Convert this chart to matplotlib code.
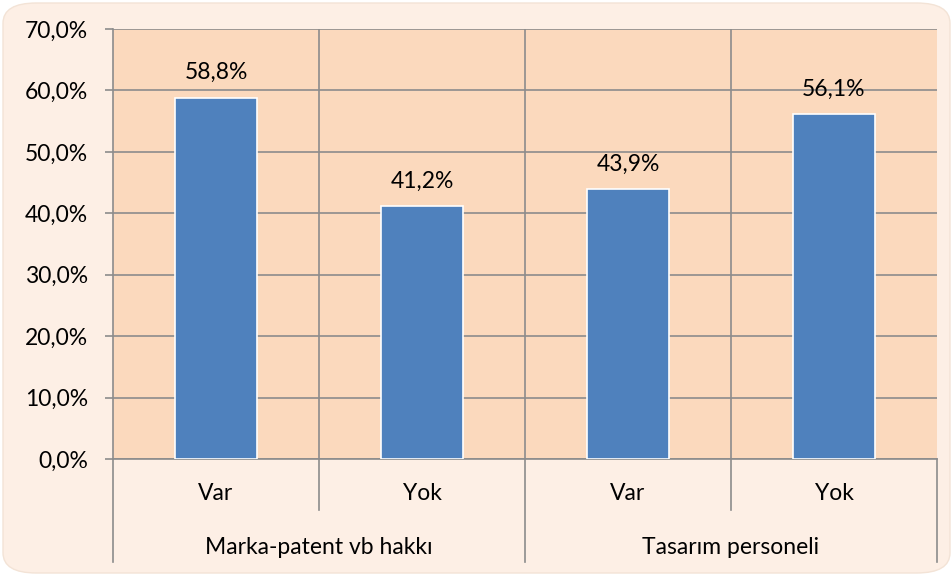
import matplotlib.pyplot as plt
from matplotlib.patches import FancyBboxPatch
from matplotlib.ticker import FuncFormatter, MultipleLocator

plt.rcParams['font.family'] = ['Lato', 'DejaVu Sans']

# Veriler
categories = ["Var", "Yok", "Var", "Yok"]
groups = ["Marka-patent vb hakkı", "Tasarım personeli"]
values = [0.588, 0.412, 0.439, 0.561]

W, H = 953, 576
FS = 16.5
fig = plt.figure(figsize=(W / 100, H / 100), dpi=100)
fig.patch.set_facecolor("white")

# dış çerçeve (yuvarlak köşeli)
bg = FancyBboxPatch((3 / W, 3 / H), 1 - 6 / W, 1 - 6 / H,
                    boxstyle="round,pad=0,rounding_size=0.035",
                    transform=fig.transFigure, facecolor="#FDEFE5",
                    edgecolor="#F3E3D6", linewidth=1, zorder=-5)
fig.patches.append(bg)

left, right, top, bottom = 113, 937, 29, 459
ax = fig.add_axes([left / W, 1 - bottom / H, (right - left) / W, (bottom - top) / H])
ax.set_zorder(2)
ax.set_facecolor("#FBD9BD")

x = range(len(values))
ax.bar(x, values, width=0.4, color="#4F81BD", edgecolor="white", linewidth=1.2, zorder=3)

for i, v in enumerate(values):
    ax.annotate(f"{v * 100:.1f}%".replace(".", ","), (i, v), xytext=(0, 18),
                textcoords="offset points", ha="center", va="center", fontsize=FS)

ax.set_xlim(-0.5, len(values) - 0.5)
ax.set_ylim(0, 0.7)
ax.yaxis.set_major_locator(MultipleLocator(0.1))
ax.yaxis.set_major_formatter(FuncFormatter(lambda v, p: f"{v * 100:.1f}%".replace(".", ",")))
ax.tick_params(axis="y", length=6, color="#8C8C8C", width=1.2, labelsize=FS, pad=12)
ax.set_xticks([])

grid_c = "#8C8C8C"
ax.grid(axis="y", color=grid_c, linewidth=1.2, zorder=1)
for xv in [0.5, 1.5, 2.5]:
    ax.axvline(xv, color=grid_c, linewidth=1.2, zorder=1)
for s in ["top", "right"]:
    ax.spines[s].set_visible(False)
ax.spines["left"].set_color(grid_c)
ax.spines["left"].set_linewidth(1.2)
ax.spines["bottom"].set_color(grid_c)
ax.spines["bottom"].set_linewidth(1.2)
ax.set_axisbelow(True)

# iki seviyeli kategori etiketleri
ph = bottom - top
inner_y = -(510 - bottom) / ph
outer_y = -(562 - bottom) / ph
trans = ax.get_xaxis_transform()
for i, c in enumerate(categories):
    ax.text(i, -(494 - bottom) / ph, c, transform=trans, ha="center", va="center", fontsize=FS)
for j, g in enumerate(groups):
    ax.text(2 * j + 0.5, -(548 - bottom) / ph, g, transform=trans, ha="center", va="center", fontsize=FS)
for xv in [0.5, 2.5]:
    ax.plot([xv, xv], [0, inner_y], transform=trans, color=grid_c, linewidth=1.2, clip_on=False)
for xv in [-0.5, 1.5, 3.5]:
    ax.plot([xv, xv], [0, outer_y], transform=trans, color=grid_c, linewidth=1.2, clip_on=False)

fig.savefig("out.png", dpi=100, facecolor=fig.get_facecolor())
